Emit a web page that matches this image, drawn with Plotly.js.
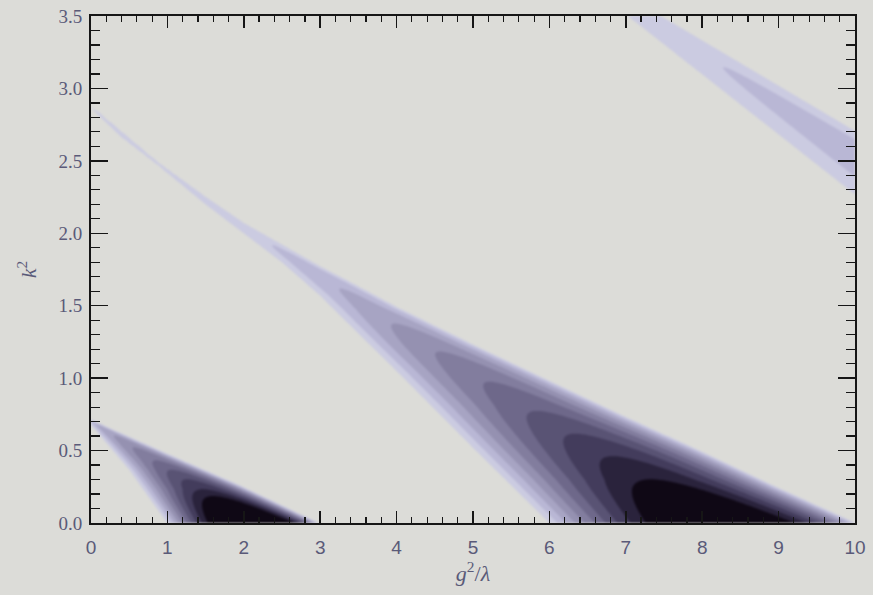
<!DOCTYPE html>
<html><head><meta charset="utf-8">
<script src="https://cdn.plot.ly/plotly-3.0.1.min.js"></script>
<style>body{margin:0;background:#dcdcd8} .contourlayer{filter:blur(1.3px)}</style>
</head><body><div id="chart" style="width:873px;height:595px"></div>
<script>
// ---- data (x = g^2/lambda, y = k^2) ----
const xRange = [0, 10];
const yRange = [0, 3.5];

// band 1 (first resonance band)
const band1LeftX  = [0.0, 0.5, 1.0];
const band1LeftY  = [0.68, 0.37, 0.0];
const band1RightX = [0.0, 1.0, 2.0, 2.97];
const band1RightY = [0.71, 0.475, 0.245, 0.0];
const band1NoseX     = [0.35, 0.60, 0.82, 1.00, 1.20, 1.33, 1.47];
const band1NoseY     = [0.60, 0.52, 0.43, 0.32, 0.23, 0.15, 0.075];
const band1NoseLevel = [3, 4, 5, 6, 7, 8, 9];

// band 2 (second resonance band)
const band2LeftX  = [0, 0.4, 0.87, 1.5, 2.0, 2.5, 3.0, 3.4, 4.0, 5.0, 6.0];
const band2LeftY  = [2.87, 2.665, 2.475, 2.20, 2.00, 1.80, 1.57, 1.36, 1.05, 0.52, 0.0];
const band2RightX = [0, 0.4, 0.87, 1.5, 2.0, 2.5, 3.0, 3.4, 4.0, 5.0, 6.0, 7.0, 8.0, 9.0, 10.0];
const band2RightY = [2.875, 2.70, 2.49, 2.25, 2.07, 1.92, 1.77, 1.66, 1.49, 1.23, 0.98, 0.73, 0.49, 0.24, 0.0];
const band2NoseX     = [2.61, 3.46, 4.12, 4.71, 5.28, 5.76, 6.25, 6.72, 7.11];
const band2NoseY     = [1.80, 1.48, 1.21, 1.00, 0.81, 0.64, 0.46, 0.30, 0.145];
const band2NoseLevel = [1, 2, 3, 4, 5, 6, 7, 8, 9];

// band 3 (third resonance band, upper right)
const band3LeftX  = [7.05, 9.92];
const band3LeftY  = [3.49, 2.30];
const band3RightX = [7.49, 9.92];
const band3RightY = [3.49, 2.73];
const band3NoseX     = [8.32, 10.0];
const band3NoseY     = [3.11, 2.39];
const band3NoseLevel = [1, 1];

// contour levels and fill colours (background, then level 0-1 ... >9)
const levelStart = 0, levelEnd = 9, levelStep = 1;
const fillColors = ['#dcdcd8', '#cbcbe1', '#b9b7d5', '#a7a4c3', '#9591b1', '#827d9e',
                    '#6e688a', '#595374', '#433c5c', '#2a233c', '#0f0815'];

// ---- helpers ----
function interp(xs, ys, x) {
  const n = xs.length;
  if (n === 1) return ys[0];
  let i = 0;
  if (x >= xs[n - 1]) i = n - 2;
  else if (x > xs[0]) { while (x > xs[i + 1]) i++; }
  const t = (x - xs[i]) / (xs[i + 1] - xs[i]);
  return ys[i] + t * (ys[i + 1] - ys[i]);
}
function makeEdge(ex, ey) {
  const ry = ey.slice().reverse(), rx = ex.slice().reverse();
  return y => interp(ry, rx, y);
}
const SKEW = 0.75, UP = 1 / (1 + SKEW);
function shape(u) { return (u / UP) * Math.pow((1 - u) / (1 - UP), SKEW); }

function makeBand(lx, ly, rx, ry, nx, ny, nl) {
  const L = makeEdge(lx, ly), R = makeEdge(rx, ry);
  const pts = nx.map((x, i) => {
    const y = ny[i], xl = L(y), xr = R(y);
    const u = (x - xl) / (xr - xl);
    return [y, nl[i] / shape(u)];
  }).sort((a, b) => a[0] - b[0]);
  const ay = pts.map(p => p[0]), aa = pts.map(p => p[1]);
  const amp = y => Math.max(0.6, interp(ay, aa, y));
  return (x, y) => {
    const xl = L(y), xr = R(y), w = xr - xl;
    if (w <= 1e-4) return -1;
    const u = (x - xl) / w;
    if (u <= 0) return Math.max(-1, (x - xl) * 8);
    if (u >= 1) return Math.max(-1, (xr - x) * 8);
    return amp(y) * shape(u);
  };
}
const bands = [
  makeBand(band1LeftX, band1LeftY, band1RightX, band1RightY, band1NoseX, band1NoseY, band1NoseLevel),
  makeBand(band2LeftX, band2LeftY, band2RightX, band2RightY, band2NoseX, band2NoseY, band2NoseLevel),
  makeBand(band3LeftX, band3LeftY, band3RightX, band3RightY, band3NoseX, band3NoseY, band3NoseLevel)
];

const nx = 501, ny = 351;
const gx = [], gy = [], gz = [];
for (let i = 0; i < nx; i++) gx.push(xRange[0] + (xRange[1] - xRange[0]) * i / (nx - 1));
for (let j = 0; j < ny; j++) gy.push(yRange[0] + (yRange[1] - yRange[0]) * j / (ny - 1));
for (let j = 0; j < ny; j++) {
  const row = [];
  for (let i = 0; i < nx; i++) {
    let z = -1;
    for (const b of bands) z = Math.max(z, b(gx[i], gy[j]));
    row.push(z);
  }
  gz.push(row);
}
const colorscale = fillColors.map((c, k) => [k / (fillColors.length - 1), c]);

const trace = {
  type: 'contour', x: gx, y: gy, z: gz,
  contours: {start: levelStart, end: levelEnd, size: levelStep, coloring: 'fill', showlines: false},
  line: {width: 0}, colorscale: colorscale, showscale: false, hoverinfo: 'skip'
};

const tickColor = '#161616';
const labelColor = '#5a5a78';
const layout = {
  width: 873, height: 595,
  margin: {l: 91, r: 18, t: 16, b: 72},
  paper_bgcolor: '#dcdcd8', plot_bgcolor: '#dcdcd8',
  showlegend: false,
  xaxis: {
    range: xRange, dtick: 1, tick0: 0, ticks: 'inside', ticklen: 12, tickwidth: 1.5, tickcolor: tickColor,
    minor: {dtick: 0.2, ticks: 'inside', ticklen: 6, tickwidth: 1.2, tickcolor: tickColor},
    showline: true, linecolor: tickColor, linewidth: 2, mirror: 'ticks',
    showgrid: false, zeroline: false, ticklabelstandoff: 6,
    tickfont: {family: 'Liberation Sans, Arial, sans-serif', size: 19, color: labelColor},
    title: {text: '<i>g</i><sup>2</sup>/<i>λ</i>', standoff: 8,
            font: {family: 'Liberation Serif, Times New Roman, serif', size: 22, color: labelColor}}
  },
  yaxis: {
    range: yRange, dtick: 0.5, tick0: 0, tickformat: '.1f', ticks: 'inside', ticklen: 17, tickwidth: 1.5, tickcolor: tickColor,
    minor: {dtick: 0.1, ticks: 'inside', ticklen: 9, tickwidth: 1.2, tickcolor: tickColor},
    showline: true, linecolor: tickColor, linewidth: 2, mirror: 'ticks',
    showgrid: false, zeroline: false, ticklabelstandoff: 3,
    tickfont: {family: 'Liberation Serif, Times New Roman, serif', size: 19, color: labelColor},
    title: {text: '<i>k</i><sup>2</sup>', standoff: 16,
            font: {family: 'Liberation Serif, Times New Roman, serif', size: 22, color: labelColor}}
  }
};
Plotly.newPlot('chart', [trace], layout, {displayModeBar: false, staticPlot: true});
</script></body></html>
